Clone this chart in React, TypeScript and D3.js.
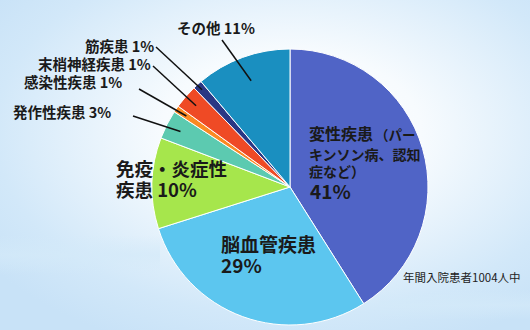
import React from "react";
import * as d3 from "d3";

const categories = ["変性疾患", "脳血管疾患", "免疫・炎症性疾患", "発作性疾患", "感染性疾患", "末梢神経疾患", "筋疾患", "その他"];
const counts = [412, 292, 107, 34, 8, 28, 11, 112];
const percentLabels = ["41%", "29%", "10%", "3%", "1%", "1%", "1%", "11%"];
const colors = ["#5064c6", "#5cc6ef", "#a6e64c", "#5ccab0", "#fb8a22", "#ef4a25", "#2a3784", "#1a8fc0"];
const note = "年間入院患者1004人中";

const W = 530, H = 330;
const cx = 290, cy = 187, R = 138;

// leader line layout for small outside labels: [sliceIndex, startX, startY, radiusFraction]
const leaders: [number, number, number, number][] = [
  [7, 222, 40, 0.82],
  [6, 156, 47, 0.95],
  [5, 153, 66, 0.9],
  [4, 139, 89, 0.91],
  [3, 133, 116, 0.89],
];

export default function App() {
  const pie = d3.pie<number>().sort(null).value((d) => d).startAngle(0).endAngle(2 * Math.PI);
  const arcs = pie(counts);
  const arc = d3.arc<d3.PieArcDatum<number>>().innerRadius(0).outerRadius(R);
  const font = "'Noto Sans CJK JP', 'Noto Sans', sans-serif";

  return (
    <svg width={W} height={H} style={{ position: "absolute", left: 0, top: 0 }} fontFamily={font}>
      <defs>
        <radialGradient id="bg" cx="55%" cy="40%" r="70%">
          <stop offset="0%" stopColor="#ffffff" />
          <stop offset="35%" stopColor="#f7fbfe" />
          <stop offset="80%" stopColor="#d2e8f9" />
          <stop offset="100%" stopColor="#c8e2f7" />
        </radialGradient>
        <linearGradient id="streak" x1="0" y1="0" x2="0" y2="1">
          <stop offset="0%" stopColor="#d4eaf9" stopOpacity="0" />
          <stop offset="50%" stopColor="#d4eaf9" stopOpacity="0.7" />
          <stop offset="100%" stopColor="#d4eaf9" stopOpacity="0" />
        </linearGradient>
      </defs>
      <rect x={0} y={0} width={W} height={H} fill="url(#bg)" />
      <rect x={0} y={235} width={160} height={40} fill="url(#streak)" />
      <rect x={380} y={290} width={150} height={30} fill="url(#streak)" />

      <g transform={`translate(${cx},${cy})`}>
        {arcs.map((a, i) => (
          <path key={i} d={arc(a) || ""} fill={colors[i]} stroke="#ffffff" strokeWidth={1} />
        ))}
      </g>

      {leaders.map(([idx, x, y, f], k) => {
        const a = arcs[idx];
        const mid = (a.startAngle + a.endAngle) / 2;
        const ex = cx + Math.sin(mid) * R * f;
        const ey = cy - Math.cos(mid) * R * f;
        return <line key={k} x1={x} y1={y} x2={ex} y2={ey} stroke="#111" strokeWidth={1.5} />;
      })}

      <g fontWeight={700} fill="#1a1a1a">
        <text x={177} y={34} fontSize={14.5}>{`${categories[7]} ${percentLabels[7]}`}</text>
        <text x={85} y={52} fontSize={14.5}>{`${categories[6]} ${percentLabels[6]}`}</text>
        <text x={38} y={70} fontSize={14.5}>{`${categories[5]} ${percentLabels[5]}`}</text>
        <text x={24} y={88} fontSize={14.5}>{`${categories[4]} ${percentLabels[4]}`}</text>
        <text x={13} y={118} fontSize={14.5}>{`${categories[3]} ${percentLabels[3]}`}</text>

        <text x={116} y={176} fontSize={18.5}>免疫・炎症性</text>
        <text x={116} y={197} fontSize={18.5}>{`疾患 ${percentLabels[2]}`}</text>

        <text x={221} y={252} fontSize={19}>{categories[1]}</text>
        <text x={221} y={273} fontSize={19}>{percentLabels[1]}</text>

        <text x={309} y={140} fontSize={16}>
          {categories[0]}
          <tspan fontSize={13.5} dx={2}>（パー</tspan>
        </text>
        <text x={309} y={160} fontSize={14}>キンソン病、認知</text>
        <text x={309} y={177} fontSize={14}>症など）</text>
        <text x={310} y={199} fontSize={19}>{percentLabels[0]}</text>
      </g>
      <text x={403} y={282} fontSize={11.5} fill="#222">{note}</text>
    </svg>
  );
}
